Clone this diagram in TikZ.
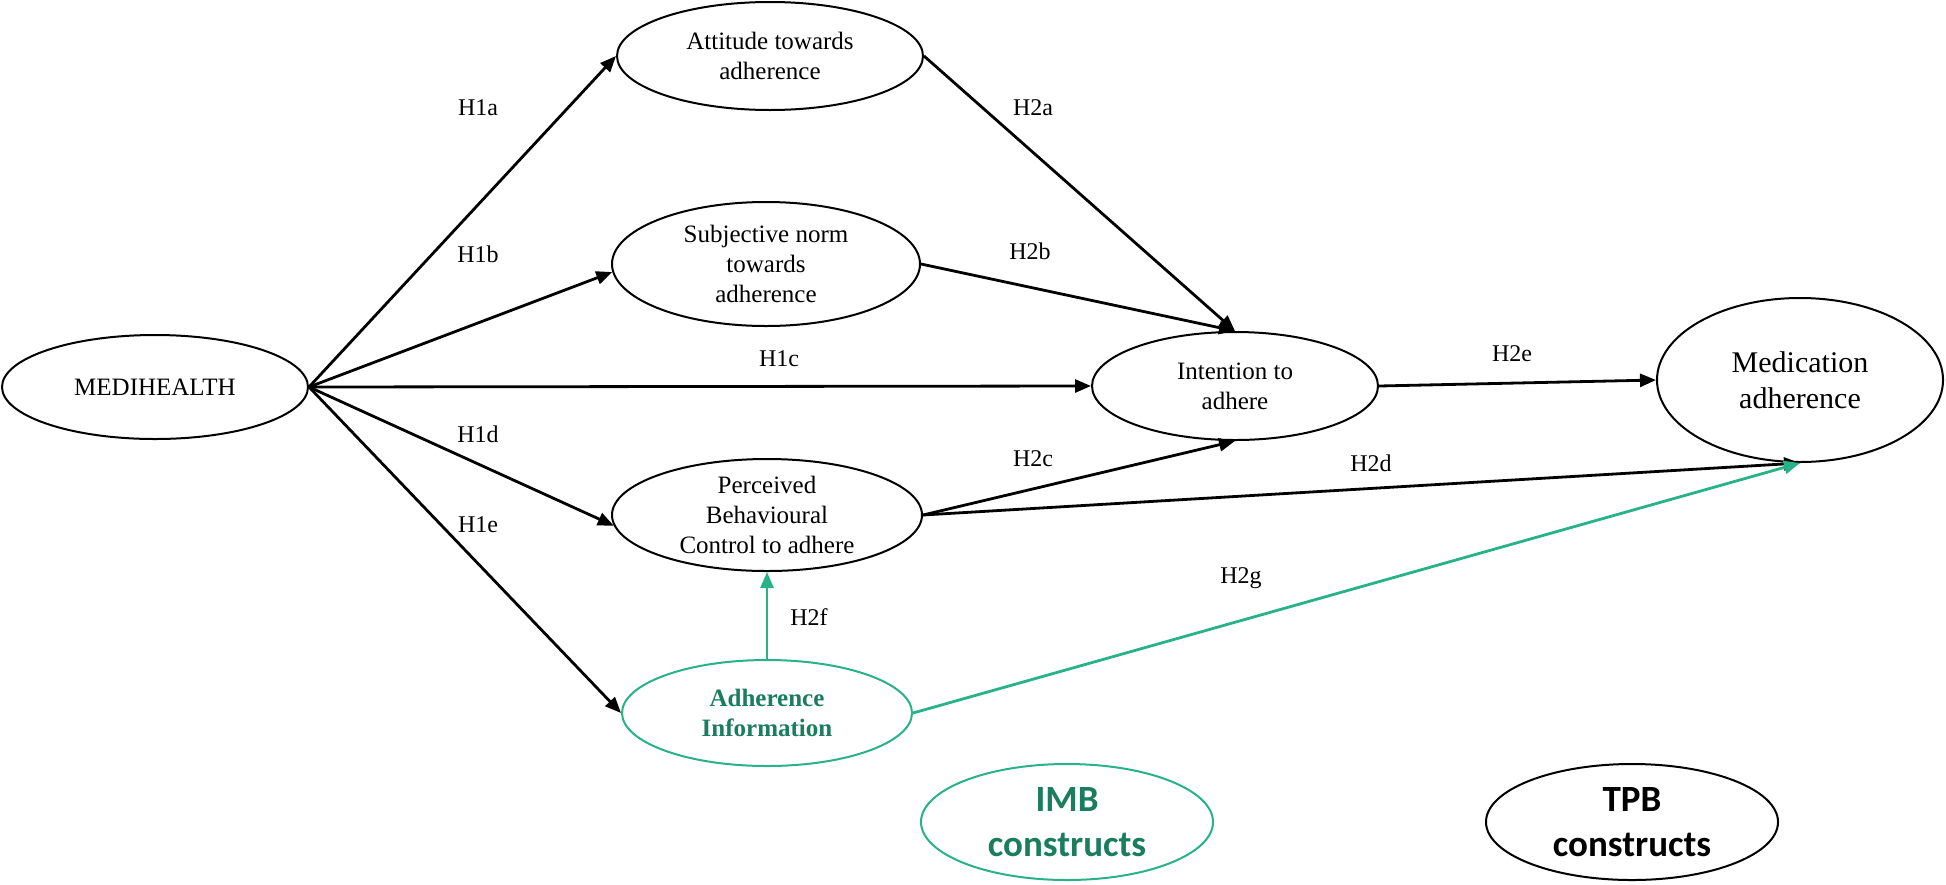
\documentclass[tikz,border=0pt]{standalone}
\usepackage{fontspec}
\setmainfont{Liberation Serif}
\newfontfamily\calfont{Carlito}
\usetikzlibrary{arrows.meta,shapes.geometric}
\definecolor{imbline}{RGB}{40,178,135}
\definecolor{imbtext}{RGB}{26,125,92}
\tikzset{
  cons/.style={ellipse, draw=black, line width=1pt, inner sep=0pt, align=center,
    font=\fontsize{12.5}{15}\selectfont},
  imb/.style={cons, draw=imbline, text=imbtext, font=\fontsize{12.5}{15}\selectfont\bfseries},
  legend/.style={ellipse, draw, line width=1pt, inner sep=0pt, align=center,
    font=\calfont\bfseries\fontsize{18.5}{22.5}\selectfont},
  arr/.style={line width=1.4pt, -{Triangle[length=8pt,width=6.5pt]}},
  garr/.style={arr, draw=imbline, -{Triangle[length=8pt,width=6.5pt,fill=imbline]}},
  hl/.style={font=\fontsize{12}{14}\selectfont, inner sep=0pt},
}
\begin{document}
\begin{tikzpicture}[x=0.5pt,y=-0.5pt]
\useasboundingbox (0,0) rectangle (1946,884);
\node[cons, minimum width=153pt, minimum height=52pt] (medi) at (155,387) {MEDIHEALTH};
\node[cons, minimum width=153pt, minimum height=54pt] (att) at (770,56) {Attitude towards\\adherence};
\node[cons, minimum width=154pt, minimum height=62pt] (sub) at (766,264) {Subjective norm\\towards\\adherence};
\node[cons, minimum width=143pt, minimum height=54pt] (int) at (1235,386) {Intention to\\adhere};
\node[cons, minimum width=143pt, minimum height=82pt, font=\fontsize{15}{18}\selectfont] (med) at (1800,380) {Medication\\adherence};
\node[cons, minimum width=155pt, minimum height=56pt] (per) at (767,515) {Perceived\\Behavioural\\Control to adhere};
\node[imb, minimum width=145pt, minimum height=53pt] (info) at (767,713) {Adherence\\Information};
\node[legend, draw=imbline, text=imbtext, minimum width=146pt, minimum height=58pt, text width=100pt] (imbl) at (1067,822) {IMB\\constructs};
\node[legend, draw=black, minimum width=146pt, minimum height=58pt, text width=100pt] (tpbl) at (1632,822) {TPB\\constructs};

\draw[arr] (medi.east) -- (att.west);
\draw[arr] (medi.east) -- (sub.183);
\draw[arr] (medi.east) -- (int.west);
\draw[arr] (medi.east) -- (per.184);
\draw[arr] (medi.east) -- (info.west);
\draw[arr] (att.east) -- (int.north);
\draw[arr] (sub.east) -- (int.north);
\draw[arr] (per.east) -- (int.south);
\draw[arr] (per.east) -- (med.south);
\draw[arr] (int.east) -- (med.west);
\draw[garr] (info.north) -- (per.south);
\draw[garr] (info.east) -- (med.south);

\node[hl] (h1a) at (478,108) {H1a};
\node[hl] (h1b) at (478,254) {H1b};
\node[hl] (h1c) at (779,359) {H1c};
\node[hl] (h1d) at (478,434) {H1d};
\node[hl] (h1e) at (478,525) {H1e};
\node[hl] (h2a) at (1033,108) {H2a};
\node[hl] (h2b) at (1030,251) {H2b};
\node[hl] (h2e) at (1512,354) {H2e};
\node[hl] (h2c) at (1033,459) {H2c};
\node[hl] (h2d) at (1371,463) {H2d};
\node[hl] (h2f) at (809,617) {H2f};
\node[hl] (h2g) at (1241,578) {H2g};
\end{tikzpicture}
\end{document}
